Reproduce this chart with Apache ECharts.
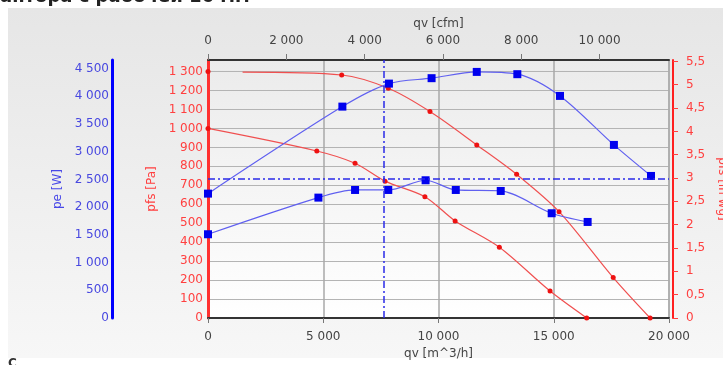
<!DOCTYPE html>
<html>
<head>
<meta charset="utf-8">
<script src="https://cdn.jsdelivr.net/npm/echarts@6/dist/echarts.min.js"></script>
<style>
html,body{margin:0;padding:0;background:#fff;}
#wrap{position:relative;width:723px;height:365px;overflow:hidden;}
#panel{position:absolute;left:8px;top:8px;width:715px;height:350px;background:linear-gradient(#e6e6e6,#f7f7f7);}
#chart{position:absolute;left:0;top:0;width:723px;height:365px;}
</style>
</head>
<body>
<div id="wrap"><div id="panel"></div><div id="chart"></div></div>
<script>
// ---- data ----
const xMax = 20000;                 // qv [m^3/h]
const cfmPerM3h = 0.5886;
const pfsHighX = [0, 1500, 5800, 7820, 9630, 11660, 13390, 15230, 17580, 19180];
const pfsHighY = [1300, 1297, 1282, 1212, 1089, 913, 758, 561, 213, 0];
const pfsHighMarker = [true, false, true, true, true, true, true, true, true, true];
const pfsLowX = [0, 4720, 6380, 7680, 9410, 10720, 12640, 14840, 16430];
const pfsLowY = [1000, 881, 816, 722, 640, 512, 373, 142, 0];
const peHighX = [0, 5830, 7850, 9700, 11660, 13420, 15270, 17610, 19220];
const peHighY = [2244, 3814, 4229, 4327, 4440, 4399, 4007, 3123, 2563];
const peLowX = [0, 4790, 6380, 7820, 9440, 10750, 12700, 14910, 16470];
const peLowY = [1511, 2172, 2310, 2310, 2485, 2310, 2292, 1890, 1733];
const opX = 7610;   // operating point qv [m^3/h]
const opPa = 733;   // operating point pfs [Pa]

const FONT = 'DejaVu Sans';
function thou(v){ const s = String(Math.round(v)); return s.replace(/\B(?=(\d{3})+(?!\d))/g, ' '); }

// high curve: first point is an isolated marker, then the line
const pfsHighData = [];
pfsHighX.forEach((x,i)=>{
  if(i===1) pfsHighData.push([x - 1, null]);
  pfsHighData.push(pfsHighMarker[i] ? [x, pfsHighY[i]] : {value:[x, pfsHighY[i]], symbol:'none'});
});
const zip = (a,b)=>a.map((x,i)=>[x,b[i]]);

const chart = echarts.init(document.getElementById('chart'), null, {renderer:'canvas'});
const blue = '#0000ee';
const option = {
  backgroundColor: 'transparent',
  animation: false,
  textStyle: {fontFamily: FONT},
  graphic: [
    {type:'text', left: 0, top: -12, style:{text:'антора с рабочей 16 мм', font:'bold 18px "DejaVu Sans"', fill:'#222'}},
    {type:'text', left: 8, top: 358, style:{text:'С', font:'bold 12px "DejaVu Sans"', fill:'#333'}}
  ],
  grid: {left: 208, top: 60, right: 54, bottom: 47, show: true, containLabel: false, outerBoundsMode: 'none',
    backgroundColor: new echarts.graphic.LinearGradient(0,0,0,1,[{offset:0,color:'#ebebeb'},{offset:1,color:'#ffffff'}]),
    borderColor: '#9a9a9a', borderWidth: 1},
  xAxis: [
    {type:'value', position:'bottom', min:0, max:xMax, interval:5000,
     name:'qv [m^3/h]', nameLocation:'middle', nameGap:29,
     nameTextStyle:{color:'#444', fontSize:12, fontFamily:FONT},
     axisLine:{show:true, onZero:false, lineStyle:{color:'#333', width:2}},
     axisTick:{show:true, length:5, lineStyle:{color:'#777'}},
     axisLabel:{color:'#444', fontSize:12, fontFamily:FONT, margin:13, formatter:thou},
     splitLine:{show:true, lineStyle:{color:'#a8a8a8', width:1.5}}},
    {type:'value', position:'top', min:0, max:xMax*cfmPerM3h, interval:2000,
     name:'qv [cfm]', nameLocation:'middle', nameGap:30,
     nameTextStyle:{color:'#444', fontSize:12, fontFamily:FONT},
     axisLine:{show:true, onZero:false, lineStyle:{color:'#333', width:2}},
     axisTick:{show:true, length:6, lineStyle:{color:'#777'}},
     axisLabel:{color:'#444', fontSize:12, fontFamily:FONT, margin:13, showMaxLabel:false,
       formatter:v=> (Math.abs(v % 2000) < 1e-6 ? thou(v) : '')},
     splitLine:{show:false}}
  ],
  yAxis: [
    {type:'value', position:'left', min:0, max:1361, interval:100,
     name:'pfs [Pa]', nameLocation:'middle', nameGap:48,
     nameTextStyle:{color:'#ff4040', fontSize:12, fontFamily:FONT},
     axisLine:{show:true, onZero:false, lineStyle:{color:'#ff3030', width:3}},
     axisTick:{show:false},
     axisLabel:{color:'#ff4040', fontSize:12, fontFamily:FONT, margin:5, showMaxLabel:false,
       formatter:v=> (v % 100 === 0 ? thou(v) : '')},
     splitLine:{show:true, lineStyle:{color:'#b4b4b4', width:1}}},
    {type:'value', position:'left', offset:96, min:0, max:4655, interval:500,
     name:'pe [W]', nameLocation:'middle', nameGap:40,
     nameTextStyle:{color:'#4848e8', fontSize:12, fontFamily:FONT},
     axisLine:{show:true, onZero:false, lineStyle:{color:'#0000ff', width:3}},
     axisTick:{show:false},
     axisLabel:{color:'#4848e0', fontSize:12, fontFamily:FONT, margin:3, showMaxLabel:false,
       formatter:v=> (v % 500 === 0 ? thou(v) : '')},
     splitLine:{show:false}},
    {type:'value', position:'right', offset:4, min:0, max:5.53, interval:0.5,
     name:'pfs [in wg]', nameLocation:'middle', nameGap:39, nameRotate:-90,
     nameTextStyle:{color:'#ff4040', fontSize:12, fontFamily:FONT},
     axisLine:{show:true, onZero:false, lineStyle:{color:'#ff2020', width:2}},
     axisTick:{show:true, length:5, lineStyle:{color:'#ff4040'}},
     axisLabel:{color:'#ff4040', fontSize:12, fontFamily:FONT, margin:13, showMaxLabel:false,
       formatter:v=>{ const r = Math.round(v*2)/2; return Math.abs(r - v) < 1e-6 ? String(r).replace('.', ',') : ''; }},
     splitLine:{show:false}}
  ],
  series: [
    {name:'pfs high', type:'line', xAxisIndex:0, yAxisIndex:0, data:pfsHighData, connectNulls:false,
     smooth:0.3, symbol:'circle', symbolSize:5, showSymbol:true,
     lineStyle:{color:'#f05050', width:1.2}, itemStyle:{color:'#ee1111'}, z:3},
    {name:'pfs low', type:'line', xAxisIndex:0, yAxisIndex:0, data:zip(pfsLowX,pfsLowY),
     smooth:0.3, symbol:'circle', symbolSize:5,
     lineStyle:{color:'#f05050', width:1.2}, itemStyle:{color:'#ee1111'}, z:3,
     markLine:{silent:true, symbol:['none','none'], label:{show:false},
       lineStyle:{color:'#2a2ae8', width:1.5, type:[7,3,2,3]},
       data:[{xAxis:opX},{yAxis:opPa}]}},
    {name:'pe high', type:'line', xAxisIndex:0, yAxisIndex:1, data:zip(peHighX,peHighY),
     smooth:0.3, symbol:'rect', symbolSize:8,
     lineStyle:{color:'#6060f0', width:1.2}, itemStyle:{color:blue}, z:4},
    {name:'pe low', type:'line', xAxisIndex:0, yAxisIndex:1, data:zip(peLowX,peLowY),
     smooth:0.3, symbol:'rect', symbolSize:8,
     lineStyle:{color:'#6060f0', width:1.2}, itemStyle:{color:blue}, z:4}
  ]
};
chart.setOption(option);
</script>
</body>
</html>
